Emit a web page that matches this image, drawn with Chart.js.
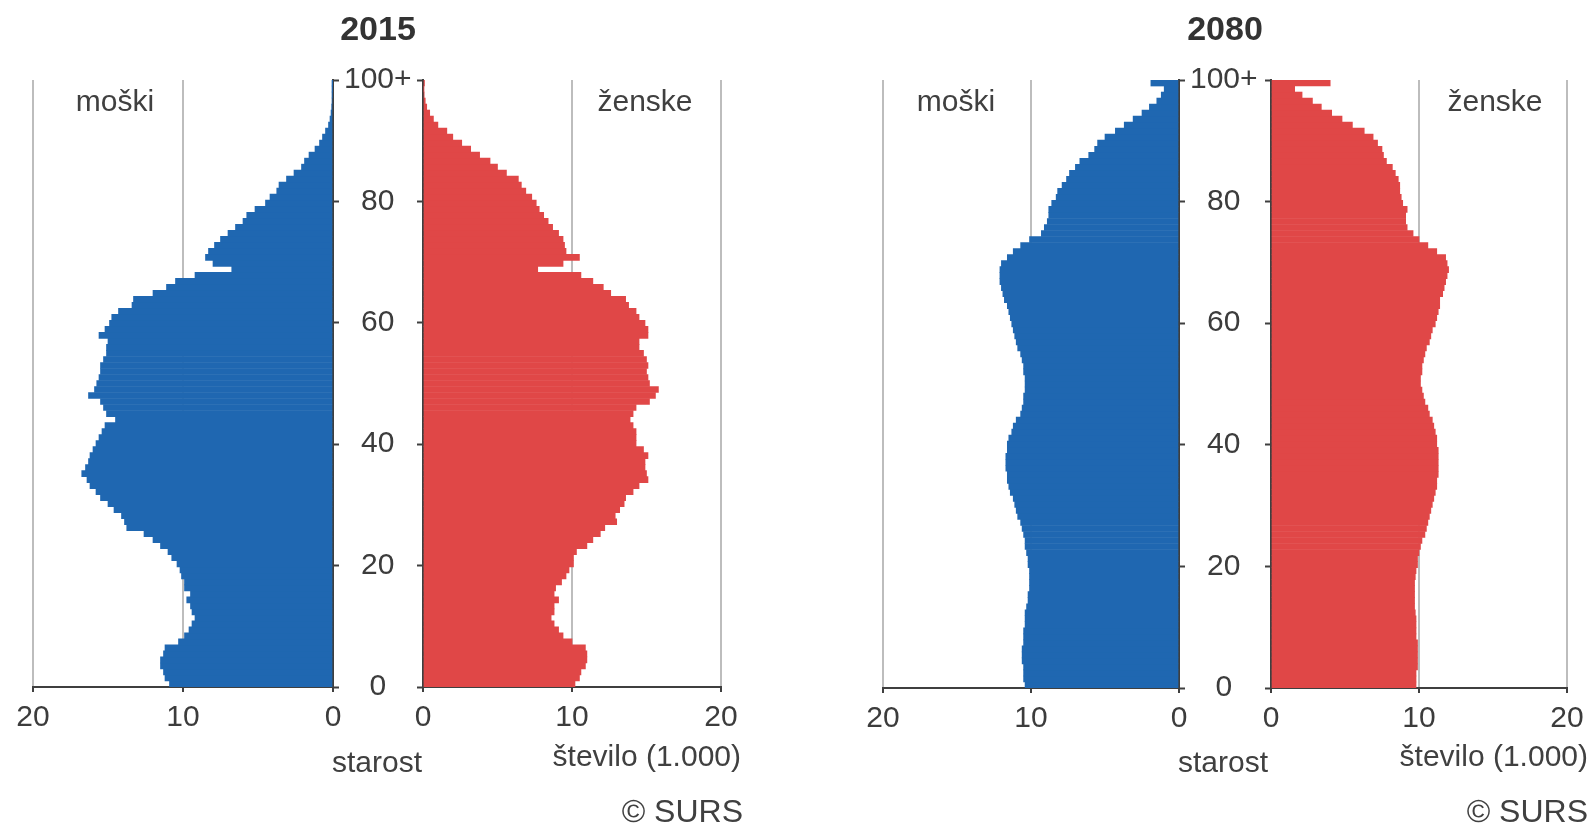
<!DOCTYPE html>
<html>
<head>
<meta charset="utf-8">
<script src="https://cdn.jsdelivr.net/npm/chart.js@4.4.1/dist/chart.umd.min.js"></script>
<style>
html,body{margin:0;padding:0;background:#fff;}
#wrap{position:relative;width:1594px;height:828px;overflow:hidden;font-family:"Liberation Sans",Arial,Helvetica,sans-serif;color:#404040;}
canvas{position:absolute;left:0;top:0;}
.t{position:absolute;white-space:nowrap;line-height:1;font-size:30px;}
.c{transform:translateX(-50%);}
.title{font-weight:bold;font-size:34px;color:#333;}
</style>
</head>
<body>
<div id="wrap">
  <canvas id="m15" width="1594" height="828"></canvas>
  <canvas id="f15" width="1594" height="828"></canvas>
  <canvas id="m80" width="1594" height="828"></canvas>
  <canvas id="f80" width="1594" height="828"></canvas>

  <div class="t title c" style="left:378px;top:11px;">2015</div>
  <div class="t title c" style="left:1225px;top:11px;">2080</div>

  <div class="t c" style="left:115px;top:86px;">moški</div>
  <div class="t c" style="left:645px;top:86px;">ženske</div>
  <div class="t c" style="left:956px;top:86px;">moški</div>
  <div class="t c" style="left:1495px;top:86px;">ženske</div>

  <div class="t c" style="left:377px;top:747px;">starost</div>
  <div class="t c" style="left:1223px;top:747px;">starost</div>
  <div class="t" style="right:853px;top:741px;">število (1.000)</div>
  <div class="t" style="right:6px;top:741px;">število (1.000)</div>
  <div class="t" style="right:851px;top:795px;font-size:32px;">© SURS</div>
  <div class="t" style="right:6px;top:795px;font-size:32px;">© SURS</div>
</div>
<script>
// ---- categories ----
const ages = [];
for (let a = 0; a <= 100; a++) ages.push(a === 100 ? '100+' : String(a));
const ageTickValues = [0, 20, 40, 60, 80, 100];
const ageTickLabels = ['0', '20', '40', '60', '80', '100+'];
const countTicks = [0, 10, 20];

// ---- series (thousands), ages 0..100+ ----
const men2015 = [
  10.9, 11.2, 11.3, 11.5, 11.5, 11.3, 11.2, 10.3, 9.9, 9.6,
  9.4, 9.2, 9.4, 9.5, 9.75, 9.5, 9.9, 9.9, 10.1, 10.2,
  10.4, 10.75, 11.0, 11.5, 12.0, 12.6, 13.75, 13.9, 14.1, 14.6,
  15.0, 15.5, 15.8, 16.2, 16.4, 16.75, 16.5, 16.3, 16.2, 16.0,
  15.8, 15.6, 15.4, 15.2, 14.5, 15.1, 15.3, 15.5, 16.3, 15.9,
  15.75, 15.6, 15.5, 15.5, 15.3, 15.1, 15.1, 15.0, 15.6, 15.2,
  14.9, 14.75, 14.3, 13.4, 13.3, 12.0, 11.1, 10.5, 9.2, 6.75,
  8.0, 8.5, 8.3, 7.9, 7.5, 7.0, 6.5, 6.0, 5.75, 5.2,
  4.5, 4.2, 3.75, 3.6, 3.1, 2.6, 2.1, 1.9, 1.6, 1.2,
  0.9, 0.7, 0.5, 0.3, 0.2, 0.13, 0.09, 0.06, 0.04, 0.03,
  0.02
];
const women2015 = [
  10.2, 10.5, 10.6, 10.9, 11.0, 11.0, 10.9, 10.0, 9.4, 9.1,
  8.8, 8.6, 8.8, 8.8, 9.1, 8.8, 8.9, 9.3, 9.6, 9.8,
  10.1, 10.1, 10.3, 11.0, 11.4, 11.9, 12.2, 13.0, 12.9, 13.2,
  13.5, 13.6, 14.1, 14.5, 15.1, 15.0, 14.9, 14.9, 15.1, 14.8,
  14.3, 14.3, 14.3, 14.1, 13.9, 14.1, 14.3, 15.2, 15.6, 15.8,
  15.2, 15.1, 15.0, 15.1, 15.0, 14.8, 14.5, 14.5, 15.1, 15.1,
  14.9, 14.5, 14.3, 13.8, 13.6, 12.6, 12.1, 11.4, 10.6, 7.7,
  9.4, 10.5, 9.6, 9.5, 9.4, 9.1, 8.7, 8.4, 8.1, 7.8,
  7.6, 7.3, 6.9, 6.6, 6.4, 5.6, 5.0, 4.5, 3.8, 3.2,
  2.6, 2.0, 1.6, 1.0, 0.7, 0.45, 0.25, 0.15, 0.08, 0.05,
  0.1
];
const men2080 = [
  10.4, 10.5, 10.5, 10.5, 10.6, 10.6, 10.6, 10.5, 10.5, 10.5,
  10.4, 10.4, 10.4, 10.3, 10.2, 10.2, 10.1, 10.1, 10.1, 10.1,
  10.2, 10.2, 10.3, 10.4, 10.4, 10.5, 10.6, 10.7, 10.9, 11.0,
  11.1, 11.2, 11.4, 11.5, 11.6, 11.6, 11.7, 11.7, 11.7, 11.6,
  11.6, 11.5, 11.3, 11.2, 11.0, 10.7, 10.6, 10.5, 10.5, 10.4,
  10.4, 10.4, 10.5, 10.5, 10.6, 10.7, 10.9, 11.0, 11.1, 11.2,
  11.3, 11.4, 11.5, 11.6, 11.8, 11.9, 12.0, 12.1, 12.1, 12.1,
  12.0, 11.6, 11.2, 10.7, 10.1, 9.3, 9.1, 8.9, 8.8, 8.8,
  8.6, 8.3, 8.2, 7.9, 7.6, 7.4, 7.0, 6.7, 6.1, 5.7,
  5.5, 5.0, 4.3, 3.7, 3.1, 2.5, 2.0, 1.5, 1.2, 1.0,
  1.9
];
const women2080 = [
  9.8, 9.8, 9.8, 9.9, 9.9, 9.9, 9.9, 9.9, 9.8, 9.8,
  9.8, 9.8, 9.75, 9.7, 9.7, 9.7, 9.7, 9.7, 9.75, 9.8,
  9.9, 9.9, 10.0, 10.1, 10.2, 10.4, 10.5, 10.6, 10.7, 10.8,
  10.9, 11.0, 11.1, 11.2, 11.2, 11.3, 11.3, 11.3, 11.3, 11.3,
  11.2, 11.2, 11.1, 11.0, 10.9, 10.7, 10.6, 10.4, 10.3, 10.2,
  10.1, 10.1, 10.2, 10.2, 10.3, 10.4, 10.5, 10.7, 10.8, 10.9,
  11.1, 11.2, 11.3, 11.4, 11.4, 11.6, 11.7, 11.8, 11.9, 12.0,
  11.9, 11.8, 11.2, 10.6, 10.0, 9.6, 9.2, 9.1, 9.1, 9.2,
  8.9, 8.8, 8.7, 8.7, 8.6, 8.4, 8.2, 7.8, 7.6, 7.5,
  7.2, 6.9, 6.3, 5.5, 4.8, 4.1, 3.4, 2.8, 2.1, 1.6,
  4.0
];

// ---- styling ----
const BLUE = '#1f67b1';
const RED = '#e04747';
const GRID = '#bdbdbd';
const AXIS = '#3f3f3f';
const TXT = '#3c3c3c';
const FONT = '"Liberation Sans", Arial, Helvetica, sans-serif';
Chart.defaults.font.family = FONT;

const PAGE_W = 1594, PAGE_H = 828, XAXIS_H = 60;

function half(id, values, color, isMale, area, gap) {
  const yW = isMale ? gap : 6;
  const padding = isMale
    ? {left: area.left, right: PAGE_W - area.right - yW, top: area.top, bottom: PAGE_H - area.bottom - XAXIS_H}
    : {left: area.left - yW, right: PAGE_W - area.right, top: area.top, bottom: PAGE_H - area.bottom - XAXIS_H};
  return new Chart(document.getElementById(id), {
    type: 'bar',
    data: {
      labels: ages,
      datasets: [{
        data: values,
        backgroundColor: color,
        borderWidth: 0,
        barPercentage: 1,
        categoryPercentage: 1,
        xAxisID: 'x',
        yAxisID: 'y'
      }]
    },
    options: {
      indexAxis: 'y',
      responsive: false,
      animation: false,
      devicePixelRatio: 1,
      layout: {padding},
      plugins: {legend: {display: false}, tooltip: {enabled: false}},
      scales: {
        y: {type: 'category', reverse: true, offset: true, display: false},
        x: {
          type: 'linear', position: 'bottom', min: 0, max: 20, reverse: isMale, offset: false,
          afterFit: s => { s.height = XAXIS_H; },
          afterBuildTicks: s => { s.ticks = countTicks.map(v => ({value: v})); },
          ticks: {color: TXT, font: {size: 30}, padding: 8, maxRotation: 0, autoSkip: false},
          grid: {
            offset: false,
            color: ctx => (ctx.tick && ctx.tick.value === 0) ? 'rgba(0,0,0,0)' : GRID,
            lineWidth: 2, tickColor: AXIS, tickLength: 5, tickWidth: 2
          },
          border: {color: AXIS, width: 2}
        },
        yAge: {
          type: 'linear', axis: 'y', position: isMale ? 'right' : 'left', min: 0, max: 100,
          offset: false, reverse: false,
          afterFit: s => { s.width = yW; },
          afterBuildTicks: s => { s.ticks = ageTickValues.map(v => ({value: v})); },
          ticks: {
            display: isMale, autoSkip: false,
            callback: (v, i) => ageTickLabels[i],
            crossAlign: 'center', padding: 5, color: TXT, font: {size: 30}
          },
          grid: {offset: false, drawOnChartArea: false, tickColor: AXIS, tickLength: 6, tickWidth: 2},
          border: {color: AXIS, width: 2}
        }
      }
    }
  });
}

half('m15', men2015, BLUE, true, {left: 33, right: 333, top: 80, bottom: 687}, 90);
half('f15', women2015, RED, false, {left: 423, right: 721, top: 80, bottom: 687}, 0);
half('m80', men2080, BLUE, true, {left: 883, right: 1179, top: 80, bottom: 688}, 92);
half('f80', women2080, RED, false, {left: 1271, right: 1567, top: 80, bottom: 688}, 0);
</script>
</body>
</html>
